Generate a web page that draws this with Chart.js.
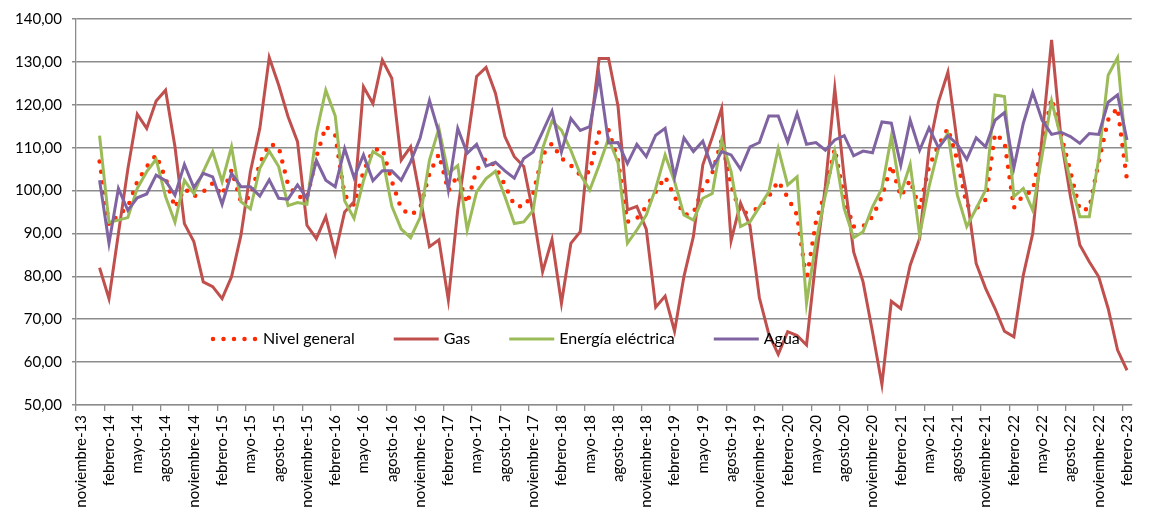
<html>
<head>
<meta charset="utf-8">
<script src="https://cdn.jsdelivr.net/npm/chart.js@4.4.0/dist/chart.umd.min.js"></script>
<title>Índices</title>
<style>
  body { margin: 0; background: #fff; }
  #wrap { width: 1149px; height: 515px; }
</style>
</head>
<body>
<div id="wrap"><canvas id="grafico" width="1149" height="515"></canvas></div>
<script>
// categorias mensuales: noviembre-13 .. febrero-23
const meses = ['enero','febrero','marzo','abril','mayo','junio','julio','agosto','septiembre','octubre','noviembre','diciembre'];
const etiquetas = [];
for (let a = 2013, m = 10; a < 2023 || (a === 2023 && m <= 1); m++) {
  if (m > 11) { m = 0; a++; }
  if (a === 2023 && m > 1) break;
  etiquetas.push(meses[m] + '-' + String(a).slice(2));
}

// valores (noviembre-13 y diciembre-13 sin dato)
const nivelGeneral = [null, null,
  106.8, 92, 94.3, 96.2, 102.1, 105.6, 108.3, 102.9, 96.0, 100.5,
  98.6, 99.7, 101.7, 98.9, 104.8, 97.4, 98.6, 106.3, 110.9, 110.2,
  101.3, 98.6, 98.2, 107.9, 115.0, 112.9, 98.9, 96.6, 104.4, 109.4,
  109.8, 102.2, 95.8, 94.3, 95.8, 104.0, 108.5, 99.9, 103.6, 97.0,
  104.8, 107.5, 105.6, 101.3, 96.6, 96.2, 99.3, 108.3, 111.0, 107.5,
  105.9, 103.6, 104.4, 113.7, 114.1, 107, 92.7, 93.5, 96.2, 99.7,
  103.2, 98.6, 94.3, 94.7, 100.5, 104.0, 111.8, 101.3, 94.5, 95.1,
  96.0, 98.6, 102.2, 98.4, 94.3, 79.1, 92.7, 99.7, 109.8, 98.2,
  91.6, 91.6, 93.9, 98.6, 105.9, 98.6, 102.4, 95.8, 105.6, 110.6,
  114.5, 107.1, 96.6, 95.8, 97.9, 113.3, 111.4, 96.0, 98.9, 99.9,
  111.1, 121.5, 113.0, 104.4, 95.4, 95.8, 106.7, 116.5, 119.3, 102.4];

const gas = [null, null,
  82.0, 74.8, 90, 105, 117.8, 114.5, 120.9, 123.4, 110.2, 92.3,
  88.1, 78.7, 77.6, 74.8, 79.9, 89.6, 104.4, 114.5, 131.0, 124.6,
  117.2, 111.4, 91.9, 88.8, 93.9, 85.3, 95.0, 97.4, 124.2, 120.3,
  130.4, 126.2, 107.1, 110.2, 98.5, 86.9, 88.5, 74.5, 95.5, 111,
  126.6, 128.7, 122.7, 112.6, 107.9, 105.6, 94.7, 81.1, 88.6, 73.7,
  87.7, 90.4, 113, 130.8, 130.8, 119.7, 95.5, 96.3, 91, 72.8,
  75.4, 67.2, 80, 89.3, 106, 112.4, 119.2, 88.3, 97.1, 91.8,
  75, 66.5, 61.8, 67.1, 66.2, 64, 84, 101, 123.8, 103,
  85.7, 78.7, 67.1, 54.8, 74.2, 72.5, 82.6, 88.8, 109.8, 120.7,
  127.6, 111, 98.9, 83, 77.2, 72.5, 67.2, 65.9, 80.3, 90,
  112.5, 135.1, 112.2, 98.6, 87.3, 83.4, 79.9, 72.5, 62.8, 58.1];

const energia = [null, null,
  112.8, 92.6, 93.1, 93.7, 100.5, 104.4, 107.3, 98.6, 92.6, 102.4,
  99.3, 104.4, 109.1, 102.1, 110.2, 97.4, 95.7, 105.2, 109.2, 105.6,
  96.5, 97.2, 96.8, 113.3, 123.4, 117.4, 97.6, 93.5, 102.3, 109.1,
  107.7, 96.4, 91, 89, 93.7, 107.1, 114.5, 104, 105.8, 90.8,
  99.7, 102.8, 104.5, 98.6, 92.3, 92.7, 95.4, 109.8, 116.2, 114.1,
  109.4, 103.8, 100.1, 105.9, 112.2, 106.5, 87.7, 90.8, 94.3, 100.5,
  108.3, 102.1, 94.3, 93.1, 98.2, 99.3, 111.8, 104.4, 91.6, 92.7,
  96.2, 99.7, 109.8, 101.3, 103.2, 73.7, 88.1, 98.9, 109.1, 95.8,
  89.0, 90.4, 96.2, 100.5, 112.6, 99.3, 106.1, 89.6, 100.9, 109.8,
  113.3, 99, 91.6, 95.8, 100.1, 122.3, 121.9, 98.6, 100.5, 95.4,
  108.3, 120.9, 112.2, 102.1, 93.9, 93.9, 107.5, 126.9, 131.0, 106.7];

const agua = [null, null,
  102.4, 87.7, 100.5, 95.4, 98.3, 99.2, 103.6, 102.3, 98.9, 106.1,
  100.7, 104.0, 103.2, 96.8, 104.0, 100.9, 100.9, 98.7, 102.5, 98.2,
  98.0, 101.3, 98.2, 107.0, 102.4, 100.9, 109.8, 103.0, 108.3, 102.3,
  104.6, 104.6, 102.4, 106.7, 112.2, 121.0, 113.5, 100.2, 114.5, 108.7,
  110.8, 105.7, 106.6, 104.6, 102.9, 107.5, 109.0, 113.7, 118.5, 109,
  116.8, 114.0, 114.9, 126.7, 111.1, 111.2, 106.3, 110.8, 107.9, 112.9,
  114.5, 103.2, 112.3, 109.1, 111.5, 105.2, 109.1, 108.3, 105.0, 110.2,
  111.2, 117.4, 117.4, 111.3, 118.0, 110.8, 111.2, 109.4, 111.8, 112.8,
  108.1, 109.2, 108.8, 116.0, 115.7, 105.9, 116.4, 109.4, 114.6, 110.0,
  112.8, 110.8, 107.3, 112.3, 110.2, 116.4, 118.2, 105.3, 115.7, 122.9,
  116.4, 113.1, 113.6, 112.6, 111.0, 113.3, 113.1, 120.6, 122.3, 111.8];

const ejeY = [50, 60, 70, 80, 90, 100, 110, 120, 130, 140];

const fuente = 'Lato, "Open Sans", sans-serif';
const gris = '#8c8c8c';

// leyenda dentro del área del gráfico, como en el original
const leyendaInterna = {
  id: 'leyendaInterna',
  afterDatasetsDraw(chart) {
    const ctx = chart.ctx;
    const area = chart.chartArea;
    let x = area.left + 136;
    const y = area.top + 320;
    ctx.save();
    ctx.font = '16px ' + fuente;
    ctx.textBaseline = 'middle';
    ctx.fillStyle = '#000';
    chart.data.datasets.forEach(ds => {
      ctx.beginPath();
      ctx.strokeStyle = ds.borderColor;
      ctx.lineWidth = ds.borderWidth;
      ctx.lineCap = ds.borderCapStyle || 'butt';
      ctx.setLineDash(ds.borderDash || []);
      ctx.moveTo(x + 1, y);
      ctx.lineTo(x + 46, y);
      ctx.stroke();
      ctx.setLineDash([]);
      x += 51;
      ctx.fillText(ds.label, x, y);
      x += ctx.measureText(ds.label).width + 38;
    });
    ctx.restore();
  }
};

new Chart(document.getElementById('grafico'), {
  type: 'line',
  data: {
    labels: etiquetas,
    datasets: [
      { label: 'Nivel general', data: nivelGeneral, borderColor: '#ff2a00',
        borderWidth: 4.5, borderDash: [0, 10.5], borderCapStyle: 'round', order: 4 },
      { label: 'Gas', data: gas, borderColor: '#c0504d', borderWidth: 3, order: 3 },
      { label: 'Energía eléctrica', data: energia, borderColor: '#9bbb59', borderWidth: 3, order: 2 },
      { label: 'Agua', data: agua, borderColor: '#8064a2', borderWidth: 3, order: 1 }
    ]
  },
  options: {
    responsive: false,
    animation: false,
    layout: { padding: { top: 19, right: 1 } },
    elements: { point: { radius: 0 }, line: { tension: 0 } },
    plugins: { legend: { display: false }, tooltip: { enabled: false } },
    scales: {
      x: {
        offset: true,
        afterFit(s) { s.height = 110; },
        grid: {
          offset: true,
          drawOnChartArea: false,
          tickLength: 6,
          lineWidth: 1.3,
          color: c => (c.index % 3 === 0 ? gris : 'rgba(0,0,0,0)')
        },
        border: { color: gris, width: 1.3 },
        ticks: {
          autoSkip: false,
          minRotation: 90,
          maxRotation: 90,
          padding: 4,
          color: '#000',
          font: { family: fuente, size: 15 },
          callback: (v, i) => (i % 3 === 0 ? etiquetas[i] : '')
        }
      },
      y: {
        min: ejeY[0],
        max: ejeY[ejeY.length - 1],
        afterFit(s) { s.width = 76; },
        afterBuildTicks(s) { s.ticks = ejeY.map(v => ({ value: v })); },
        grid: { color: gris, lineWidth: 1.5, tickLength: 4 },
        border: { color: gris, width: 1.3 },
        ticks: {
          padding: 10,
          color: '#000',
          font: { family: fuente, size: 15 },
          callback: v => v.toFixed(2).replace('.', ',')
        }
      }
    }
  },
  plugins: [leyendaInterna]
});
</script>
</body>
</html>
